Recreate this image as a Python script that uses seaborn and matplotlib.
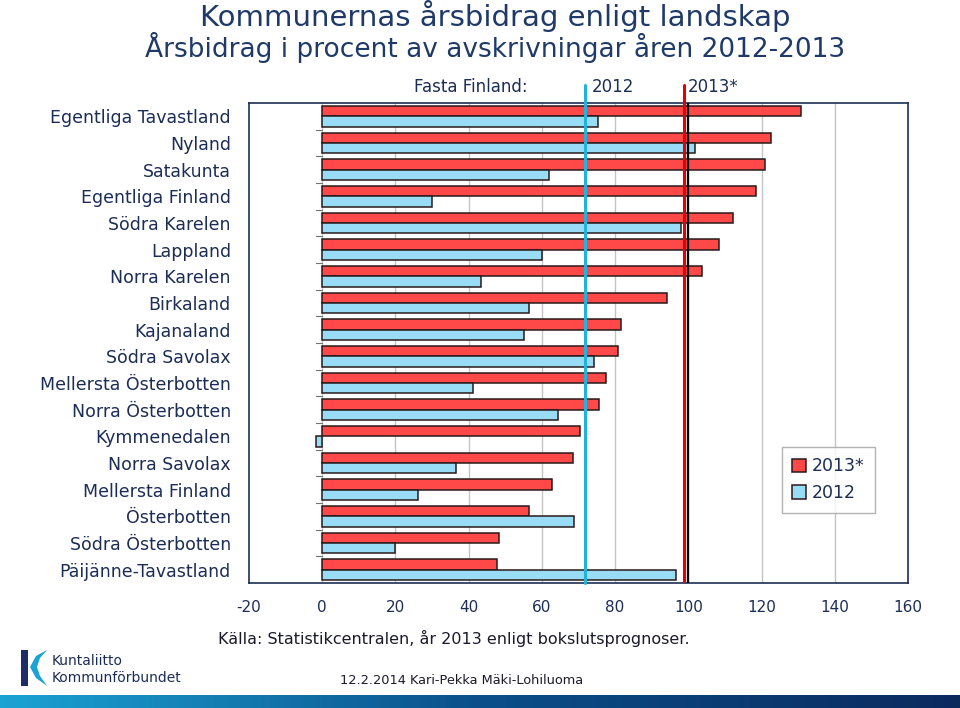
import matplotlib
matplotlib.use('Agg')
import matplotlib.pyplot as plt
import seaborn as sns
import numpy as np
import pandas as pd
from matplotlib.patches import Patch, Polygon
import matplotlib.transforms as mtransforms

# Data
regions = ['Egentliga Tavastland', 'Nyland', 'Satakunta', 'Egentliga Finland',
           'Södra Karelen', 'Lappland', 'Norra Karelen', 'Birkaland', 'Kajanaland',
           'Södra Savolax', 'Mellersta Österbotten', 'Norra Österbotten',
           'Kymmenedalen', 'Norra Savolax', 'Mellersta Finland', 'Österbotten',
           'Södra Österbotten', 'Päijänne-Tavastland']
values_2013 = [130.7, 122.6, 121.0, 118.4, 112.1, 108.4, 103.7, 94.3, 81.7,
               80.7, 77.4, 75.6, 70.4, 68.6, 62.7, 56.6, 48.3, 47.7]
values_2012 = [75.2, 101.9, 62.0, 30.0, 97.9, 60.1, 43.3, 56.5, 55.0,
               74.1, 41.3, 64.4, -1.7, 36.5, 26.1, 68.8, 19.8, 96.5]
series = ['2013*', '2012']
whole_country = {'2012': 71.7, '2013*': 98.9}
x_ticks = [-20, 0, 20, 40, 60, 80, 100, 120, 140, 160]

navy = '#1c2d55'
red = '#ff4848'
cyan = '#99dcf5'
edge = '#2a1a1a'

df = pd.DataFrame({
    'region': regions * 2,
    'value': values_2013 + values_2012,
    'year': ['2013*'] * len(regions) + ['2012'] * len(regions),
})

sns.set_style('white')
plt.rcParams['font.family'] = ['DejaVu Sans']
plt.rcParams['text.color'] = navy
plt.rcParams['axes.unicode_minus'] = False

fig = plt.figure(figsize=(9.6, 7.08), dpi=100)
ax = fig.add_axes([249 / 960, 1 - 583 / 708, (908 - 249) / 960, (583 - 103) / 708])

sns.barplot(data=df, y='region', x='value', hue='year', hue_order=series,
            order=regions, palette={'2013*': red, '2012': cyan}, orient='h',
            width=0.78, saturation=1, edgecolor=edge, linewidth=1.1,
            legend=False, ax=ax)

ax.set_xlim(-20, 160)
ax.set_ylim(len(regions) - 0.5, -0.5)
ax.set_xticks(x_ticks)
ax.set_xticks(np.arange(-10, 160, 20), minor=True)
ax.tick_params(axis='x', which='major', direction='out', length=4, color=navy,
               labelsize=11, labelcolor=navy, pad=8)
ax.tick_params(axis='x', which='minor', direction='in', length=4, color=navy)
ax.tick_params(axis='y', length=0, labelsize=12.5, labelcolor=navy, pad=13)
ax.set_xlabel('')
ax.set_ylabel('')

# vertical grid lines
for v in x_ticks[1:-1]:
    ax.axvline(v, color='#c4c4c4', lw=1, zorder=0)

for side in ['left', 'right', 'top', 'bottom']:
    ax.spines[side].set_color(navy)
    ax.spines[side].set_linewidth(1.2)

# small tick marks at zero between categories
for k in range(len(regions) - 1):
    ax.plot([-1.6, 0], [k + 0.5, k + 0.5], color='#707070', lw=0.8, zorder=1)

# 100 reference line and whole-country lines
ax.axvline(100, color='black', lw=1.6, zorder=4)
trans = mtransforms.blended_transform_factory(ax.transData, ax.transAxes)
ax.plot([whole_country['2012']] * 2, [0, 1.037], transform=trans,
        color='#1fb3e0', lw=2.2, clip_on=False, zorder=5)
ax.plot([whole_country['2013*']] * 2, [0.005, 1.037], transform=trans,
        color='#e80000', lw=2.2, clip_on=False, zorder=5)

fig.text(414 / 960, 1 - 87 / 708, 'Fasta Finland:', fontsize=12, va='center', ha='left')
fig.text(592 / 960, 1 - 87 / 708, '2012', fontsize=12, va='center', ha='left')
fig.text(688 / 960, 1 - 87 / 708, '2013*', fontsize=12, va='center', ha='left')

handles = [Patch(facecolor=red, edgecolor=edge, lw=1.1, label='2013*'),
           Patch(facecolor=cyan, edgecolor=edge, lw=1.1, label='2012')]
leg = fig.legend(handles=handles, loc='upper left',
                 bbox_to_anchor=(782 / 960, 1 - 447 / 708), fontsize=12.5,
                 frameon=True, fancybox=False, edgecolor='#a0a0a0',
                 handlelength=0.8, handleheight=0.8, handletextpad=0.3,
                 borderpad=0.6, labelspacing=0.5, borderaxespad=0)
leg.get_frame().set_linewidth(1.0)
for t in leg.get_texts():
    t.set_color(navy)

# titles
fig.text(0.516, 1 - 16 / 708, 'Kommunernas årsbidrag enligt landskap',
         fontsize=21, ha='center', va='center', color='#1f3a68')
fig.text(0.516, 1 - 47 / 708, 'Årsbidrag i procent av avskrivningar åren 2012-2013',
         fontsize=19, ha='center', va='center', color='#1f3a68')

fig.text(218 / 960, 1 - 638 / 708,
         'Källa: Statistikcentralen, år 2013 enligt bokslutsprognoser.',
         fontsize=11.5, ha='left', va='center', color='#1a1a2a')
fig.text(340 / 960, 1 - 680 / 708, '12.2.2014 Kari-Pekka Mäki-Lohiluoma',
         fontsize=9.3, ha='left', va='center', color='#1a1a2a')

# logo
fig.text(52 / 960, 1 - 661 / 708, 'Kuntaliitto', fontsize=10, ha='left', va='center', color=navy)
fig.text(52 / 960, 1 - 678 / 708, 'Kommunförbundet', fontsize=10, ha='left', va='center', color=navy)
logo = fig.add_axes([0, 0, 1, 1], facecolor='none')
logo.set_xlim(0, 960)
logo.set_ylim(708, 0)
logo.axis('off')
logo.add_patch(Polygon([[21, 650], [28, 650], [28, 686], [21, 686]], closed=True,
                       facecolor='#1c2d6a', edgecolor='none'))
logo.add_patch(Polygon([[47, 650], [36, 656], [30, 667], [36, 678], [47, 686],
                        [40, 676], [37, 667], [40, 658]], closed=True,
                       facecolor='#1aa3d6', edgecolor='none'))

# bottom gradient band
band = fig.add_axes([0, 0, 1, 13 / 708])
grad = np.linspace(0, 1, 256).reshape(1, -1)
band.imshow(grad, aspect='auto', cmap=matplotlib.colors.LinearSegmentedColormap.from_list(
    'band', ['#1ba3d4', '#0b4f8a', '#0a2a5e']))
band.axis('off')

fig.savefig('out.png', dpi=100)
